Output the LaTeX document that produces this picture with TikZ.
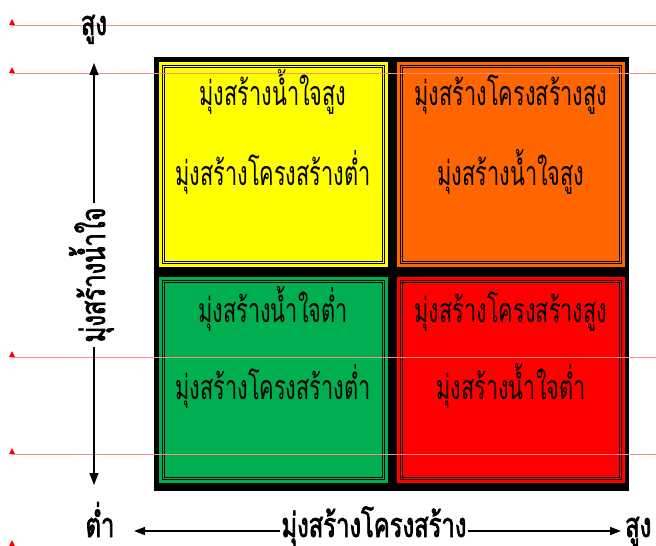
\documentclass[tikz,border=0pt]{standalone}
\usepackage{fontspec}
\usetikzlibrary{arrows.meta}
\newfontfamily\thai[Script=Thai,FakeStretch=0.64]{Loma}
\newfontfamily\thaib[Script=Thai,FakeStretch=0.70,FakeBold=2]{Loma}
\definecolor{cyel}{RGB}{255,255,0}
\definecolor{corg}{RGB}{255,102,0}
\definecolor{cgrn}{RGB}{0,176,80}
\definecolor{cred}{RGB}{255,0,0}
\begin{document}
\begin{tikzpicture}[x=1pt,y=-1pt,
  guide/.style={draw=red!45,line width=0.6pt},
  gmark/.style={fill=red,draw=none},
  celltext/.style={font=\thai\fontsize{34}{40}\selectfont,inner sep=0pt,anchor=base},
  axistext/.style={font=\thaib\fontsize{34}{40}\selectfont,inner sep=1pt,anchor=base},
  dbl/.style={draw=black,line width=1.1pt,double=#1,double distance=1pt},
  arr/.style={line width=1.4pt,-{Triangle[width=9pt,length=12pt]}},
  harr/.style={line width=1.4pt,-{Triangle[width=8pt,length=11pt]}}]
\useasboundingbox (0,0) rectangle (656,546);
% frame and cells
\fill[black] (154,57) rectangle (629,491);
\fill[cyel] (159,62) rectangle (388,267);
\fill[corg] (397,62) rectangle (625,267);
\fill[cgrn] (159,277) rectangle (388,483);
\fill[cred] (397,277) rectangle (625,483);
\draw[dbl=cyel] (163.5,66.5) rectangle (383.5,262.5);
\draw[dbl=corg] (401.5,66.5) rectangle (620.5,262.5);
\draw[dbl=cgrn] (163.5,281.5) rectangle (383.5,478.5);
\draw[dbl=cred] (401.5,281.5) rectangle (620.5,478.5);
% cell texts
\node[celltext] (y1) at (273,105) {มุ่งสร้างน้ำใจสูง};
\node[celltext] (y2) at (273,185) {มุ่งสร้างโครงสร้างต่ำ};
\node[celltext] (o1) at (511,105) {มุ่งสร้างโครงสร้างสูง};
\node[celltext] (o2) at (511,185) {มุ่งสร้างน้ำใจสูง};
\node[celltext] (g1) at (273,322) {มุ่งสร้างน้ำใจต่ำ};
\node[celltext] (g2) at (273,399) {มุ่งสร้างโครงสร้างต่ำ};
\node[celltext] (r1) at (511,322) {มุ่งสร้างโครงสร้างสูง};
\node[celltext] (r2) at (511,399) {มุ่งสร้างน้ำใจต่ำ};
% guide lines
\foreach \yy in {25,73,357,454}{
  \draw[guide] (12,\yy) -- (656,\yy);
  \fill[gmark] (9,\yy) -- (15,\yy) -- (12,\yy-6) -- cycle;
}
\fill[gmark] (9,546) -- (15,546) -- (12,540) -- cycle;
% vertical axis
\node[axistext] (vtoplab) at (94,35) {สูง};
\node[axistext,rotate=90,inner sep=4pt] (vlab) at (105,275) {มุ่งสร้างน้ำใจ};
\coordinate (vtop) at (94,63);
\coordinate (vbot) at (94,485);
\draw[arr] (vtop |- vlab.east) -- (vtop);
\draw[arr] (vbot |- vlab.west) -- (vbot);
% horizontal axis
\node[axistext] (hlow) at (100,537) {ต่ำ};
\node[axistext] (hlab) at (374,537) {มุ่งสร้างโครงสร้าง};
\node[axistext,anchor=base west] (hhigh) at (624,537) {สูง};
\coordinate (hleft) at (134,531);
\coordinate (hright) at (621,531);
\draw[harr] (hleft -| hlab.west) -- (hleft);
\draw[harr] (hright -| hlab.east) -- (hright);
\end{tikzpicture}
\end{document}
